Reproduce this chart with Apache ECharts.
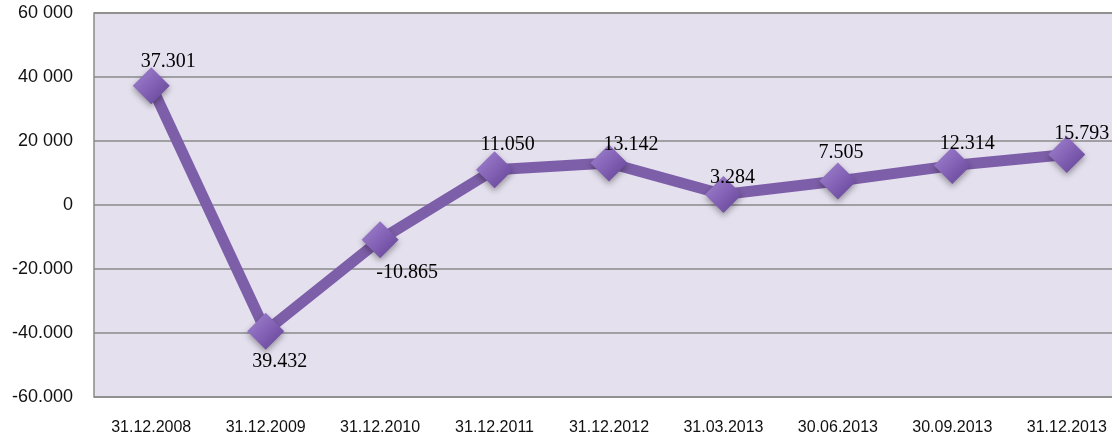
<!DOCTYPE html>
<html>
<head>
<meta charset="utf-8">
<script src="https://cdn.jsdelivr.net/npm/echarts@6/dist/echarts.min.js"></script>
<style>
  html, body { margin: 0; padding: 0; background: #fff; }
  #chart { width: 1112px; height: 436px; }
</style>
</head>
<body>
<div id="chart"></div>
<script>
var categories = ['31.12.2008', '31.12.2009', '31.12.2010', '31.12.2011', '31.12.2012',
    '31.03.2013', '30.06.2013', '30.09.2013', '31.12.2013']
var values = [37301, -39432, -10865, 11050, 13142, 3284, 7505, 12314, 15793]
var pointLabels = ['37.301', '39.432', '-10.865', '11.050', '13.142', '3.284', '7.505', '12.314', '15.793']
var yTickLabels = {
    '60000': '60 000', '40000': '40 000', '20000': '20 000', '0': '0',
    '-20000': '-20.000', '-40000': '-40.000', '-60000': '-60.000'
}

// label offsets from the marker centre, px
var labelOffsets = [[17, -24], [14, 31], [27, 33], [13, -25], [22, -18], [9, -17], [3, -28], [15, -22], [15, -21]]

var myChart = echarts.init(document.getElementById('chart'))

function option() {
    var data = values.map(function (v, i) {
        return {
            value: v,
            label: {
                position: 'inside',
                offset: labelOffsets[i],
                formatter: pointLabels[i]
            }
        }
    })
    return {
        animation: false,
        grid: {
            left: 94, top: 13, width: 1030, height: 384,
            outerBoundsMode: 'none',
            containLabel: false,
            show: true,
            backgroundColor: '#e4e0ee',
            borderColor: '#8a8a8a',
            borderWidth: 1.5
        },
        xAxis: {
            type: 'category',
            data: categories,
            boundaryGap: true,
            axisLine: { show: false },
            axisTick: { show: false },
            axisLabel: {
                margin: 23,
                fontFamily: 'Liberation Sans',
                fontSize: 16,
                color: '#111'
            }
        },
        yAxis: {
            type: 'value',
            min: -60000,
            max: 60000,
            interval: 20000,
            axisLine: { show: false },
            axisTick: { show: false },
            splitLine: { lineStyle: { color: '#8a8a8a', width: 1.5 } },
            axisLabel: {
                margin: 21,
                fontFamily: 'Liberation Sans',
                fontSize: 18,
                color: '#111',
                formatter: function (v) { return yTickLabels[String(v)] }
            }
        },
        series: [{
            type: 'line',
            data: data,
            lineStyle: { color: '#7d5ea8', width: 11 },
            symbol: 'diamond',
            symbolSize: [37, 37],
            itemStyle: {
                color: new echarts.graphic.LinearGradient(0, 0, 1, 1, [
                    { offset: 0, color: '#a185cf' },
                    { offset: 0.5, color: '#8462b6' },
                    { offset: 1, color: '#5f4190' }
                ]),
                shadowColor: 'rgba(0,0,0,0.35)',
                shadowBlur: 6,
                shadowOffsetY: 3
            },
            label: {
                show: true,
                fontFamily: 'Liberation Serif',
                fontSize: 20,
                color: '#000'
            }
        }]
    }
}

myChart.setOption(option())
</script>
</body>
</html>
